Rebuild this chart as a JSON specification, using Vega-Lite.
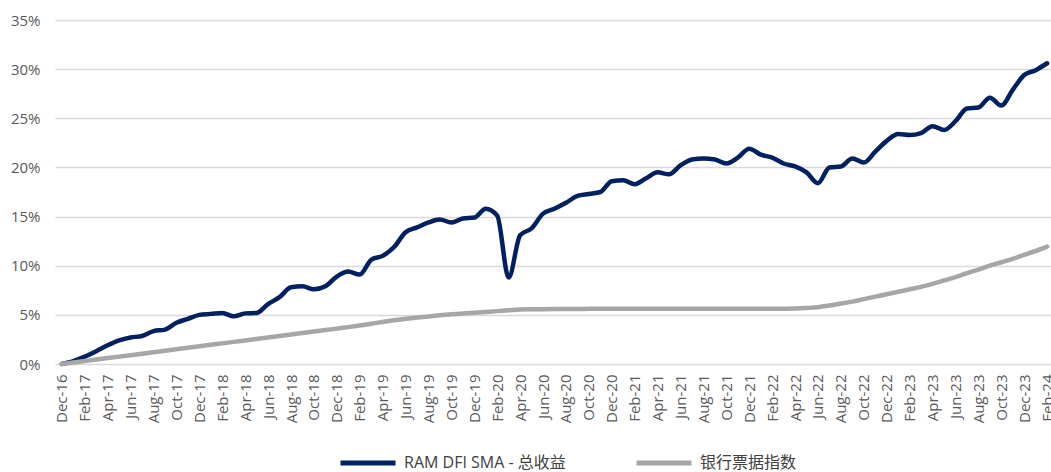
{
  "$schema": "https://vega.github.io/schema/vega-lite/v6.json",
  "autosize": "none",
  "padding": {"left": 55, "top": 20, "right": 0, "bottom": 108},
  "width": 999,
  "height": 344,
  "background": "white",
  "config": {
    "view": {"stroke": null},
    "font": "Open Sans",
    "axis": {"labelFont": "Open Sans", "labelColor": "#595959", "labelFontSize": 15}
  },
  "data": {"values": [
    {"m":"Dec-16","a":0,"b":0},
    {"m":"Jan-17","a":0.003,"b":0.0015},
    {"m":"Feb-17","a":0.0075,"b":0.003},
    {"m":"Mar-17","a":0.013,"b":0.0045},
    {"m":"Apr-17","a":0.019,"b":0.006},
    {"m":"May-17","a":0.024,"b":0.0075},
    {"m":"Jun-17","a":0.027,"b":0.009},
    {"m":"Jul-17","a":0.0285,"b":0.0105},
    {"m":"Aug-17","a":0.0335,"b":0.012},
    {"m":"Sep-17","a":0.035,"b":0.0135},
    {"m":"Oct-17","a":0.042,"b":0.015},
    {"m":"Nov-17","a":0.046,"b":0.0165},
    {"m":"Dec-17","a":0.05,"b":0.018},
    {"m":"Jan-18","a":0.051,"b":0.0195},
    {"m":"Feb-18","a":0.052,"b":0.021},
    {"m":"Mar-18","a":0.0485,"b":0.0225},
    {"m":"Apr-18","a":0.0515,"b":0.024},
    {"m":"May-18","a":0.052,"b":0.0255},
    {"m":"Jun-18","a":0.061,"b":0.027},
    {"m":"Jul-18","a":0.068,"b":0.0285},
    {"m":"Aug-18","a":0.078,"b":0.03},
    {"m":"Sep-18","a":0.079,"b":0.0315},
    {"m":"Oct-18","a":0.076,"b":0.033},
    {"m":"Nov-18","a":0.079,"b":0.0345},
    {"m":"Dec-18","a":0.089,"b":0.036},
    {"m":"Jan-19","a":0.094,"b":0.0375},
    {"m":"Feb-19","a":0.091,"b":0.0392},
    {"m":"Mar-19","a":0.106,"b":0.041},
    {"m":"Apr-19","a":0.11,"b":0.0428},
    {"m":"May-19","a":0.119,"b":0.0445},
    {"m":"Jun-19","a":0.134,"b":0.046},
    {"m":"Jul-19","a":0.139,"b":0.0472},
    {"m":"Aug-19","a":0.144,"b":0.0484},
    {"m":"Sep-19","a":0.147,"b":0.0495},
    {"m":"Oct-19","a":0.144,"b":0.0505},
    {"m":"Nov-19","a":0.148,"b":0.0513},
    {"m":"Dec-19","a":0.149,"b":0.0522},
    {"m":"Jan-20","a":0.158,"b":0.053},
    {"m":"Feb-20","a":0.151,"b":0.0538},
    {"m":"Mar-20","a":0.088,"b":0.0547},
    {"m":"Apr-20","a":0.131,"b":0.0555},
    {"m":"May-20","a":0.138,"b":0.0557},
    {"m":"Jun-20","a":0.153,"b":0.0558},
    {"m":"Jul-20","a":0.158,"b":0.0559},
    {"m":"Aug-20","a":0.164,"b":0.056},
    {"m":"Sep-20","a":0.171,"b":0.056},
    {"m":"Oct-20","a":0.173,"b":0.0561},
    {"m":"Nov-20","a":0.175,"b":0.0561},
    {"m":"Dec-20","a":0.186,"b":0.0561},
    {"m":"Jan-21","a":0.187,"b":0.0561},
    {"m":"Feb-21","a":0.183,"b":0.0561},
    {"m":"Mar-21","a":0.189,"b":0.0561},
    {"m":"Apr-21","a":0.195,"b":0.0561},
    {"m":"May-21","a":0.193,"b":0.0561},
    {"m":"Jun-21","a":0.202,"b":0.0562},
    {"m":"Jul-21","a":0.208,"b":0.0562},
    {"m":"Aug-21","a":0.209,"b":0.0562},
    {"m":"Sep-21","a":0.208,"b":0.0562},
    {"m":"Oct-21","a":0.204,"b":0.0562},
    {"m":"Nov-21","a":0.21,"b":0.0562},
    {"m":"Dec-21","a":0.219,"b":0.0562},
    {"m":"Jan-22","a":0.213,"b":0.0562},
    {"m":"Feb-22","a":0.21,"b":0.0562},
    {"m":"Mar-22","a":0.204,"b":0.0563},
    {"m":"Apr-22","a":0.201,"b":0.0565},
    {"m":"May-22","a":0.195,"b":0.057},
    {"m":"Jun-22","a":0.184,"b":0.0578},
    {"m":"Jul-22","a":0.2,"b":0.0595},
    {"m":"Aug-22","a":0.201,"b":0.0615},
    {"m":"Sep-22","a":0.209,"b":0.0635},
    {"m":"Oct-22","a":0.205,"b":0.066},
    {"m":"Nov-22","a":0.216,"b":0.0685},
    {"m":"Dec-22","a":0.227,"b":0.071},
    {"m":"Jan-23","a":0.234,"b":0.0735},
    {"m":"Feb-23","a":0.233,"b":0.076},
    {"m":"Mar-23","a":0.235,"b":0.0785},
    {"m":"Apr-23","a":0.242,"b":0.0815},
    {"m":"May-23","a":0.238,"b":0.085},
    {"m":"Jun-23","a":0.247,"b":0.0885},
    {"m":"Jul-23","a":0.26,"b":0.0925},
    {"m":"Aug-23","a":0.261,"b":0.096},
    {"m":"Sep-23","a":0.271,"b":0.1},
    {"m":"Oct-23","a":0.263,"b":0.1035},
    {"m":"Nov-23","a":0.279,"b":0.107},
    {"m":"Dec-23","a":0.294,"b":0.111},
    {"m":"Jan-24","a":0.299,"b":0.115},
    {"m":"Feb-24","a":0.306,"b":0.1195}
  ]},
  "transform": [{"fold": ["a", "b"], "as": ["s", "v"]}],
  "mark": {"type": "line", "interpolate": "monotone", "strokeWidth": 4.5, "strokeCap": "round"},
  "encoding": {
    "x": {
      "field": "m", "type": "ordinal", "sort": null,
      "scale": {"type": "point", "padding": 0.6},
      "axis": {
        "title": null, "domain": false, "ticks": false, "grid": false,
        "labelAngle": -90, "labelPadding": 10,
        "values": ["Dec-16","Feb-17","Apr-17","Jun-17","Aug-17","Oct-17","Dec-17","Feb-18","Apr-18","Jun-18","Aug-18","Oct-18","Dec-18","Feb-19","Apr-19","Jun-19","Aug-19","Oct-19","Dec-19","Feb-20","Apr-20","Jun-20","Aug-20","Oct-20","Dec-20","Feb-21","Apr-21","Jun-21","Aug-21","Oct-21","Dec-21","Feb-22","Apr-22","Jun-22","Aug-22","Oct-22","Dec-22","Feb-23","Apr-23","Jun-23","Aug-23","Oct-23","Dec-23","Feb-24"]
      }
    },
    "y": {
      "field": "v", "type": "quantitative",
      "scale": {"domain": [0, 0.35], "nice": false},
      "axis": {
        "title": null, "domain": false, "ticks": false, "grid": true,
        "gridColor": "#d9d9d9", "gridWidth": 1.5,
        "values": [0, 0.05, 0.1, 0.15, 0.2, 0.25, 0.3, 0.35],
        "format": ".0%", "labelPadding": 15
      }
    },
    "color": {
      "field": "s", "type": "nominal",
      "scale": {"domain": ["a", "b"], "range": ["#002060", "#a6a6a6"]},
      "legend": {
        "title": null, "orient": "none", "direction": "horizontal",
        "legendX": 283, "legendY": 413,
        "symbolType": "stroke", "symbolSize": 3025, "symbolStrokeWidth": 5,
        "labelFont": "Open Sans, Noto Sans CJK SC", "labelFontSize": 16, "labelColor": "#404040",
        "labelOffset": 6, "columnPadding": 60, "labelLimit": 400,
        "labelExpr": "datum.value == 'a' ? 'RAM DFI SMA - 总收益' : '银行票据指数'"
      }
    }
  }
}
